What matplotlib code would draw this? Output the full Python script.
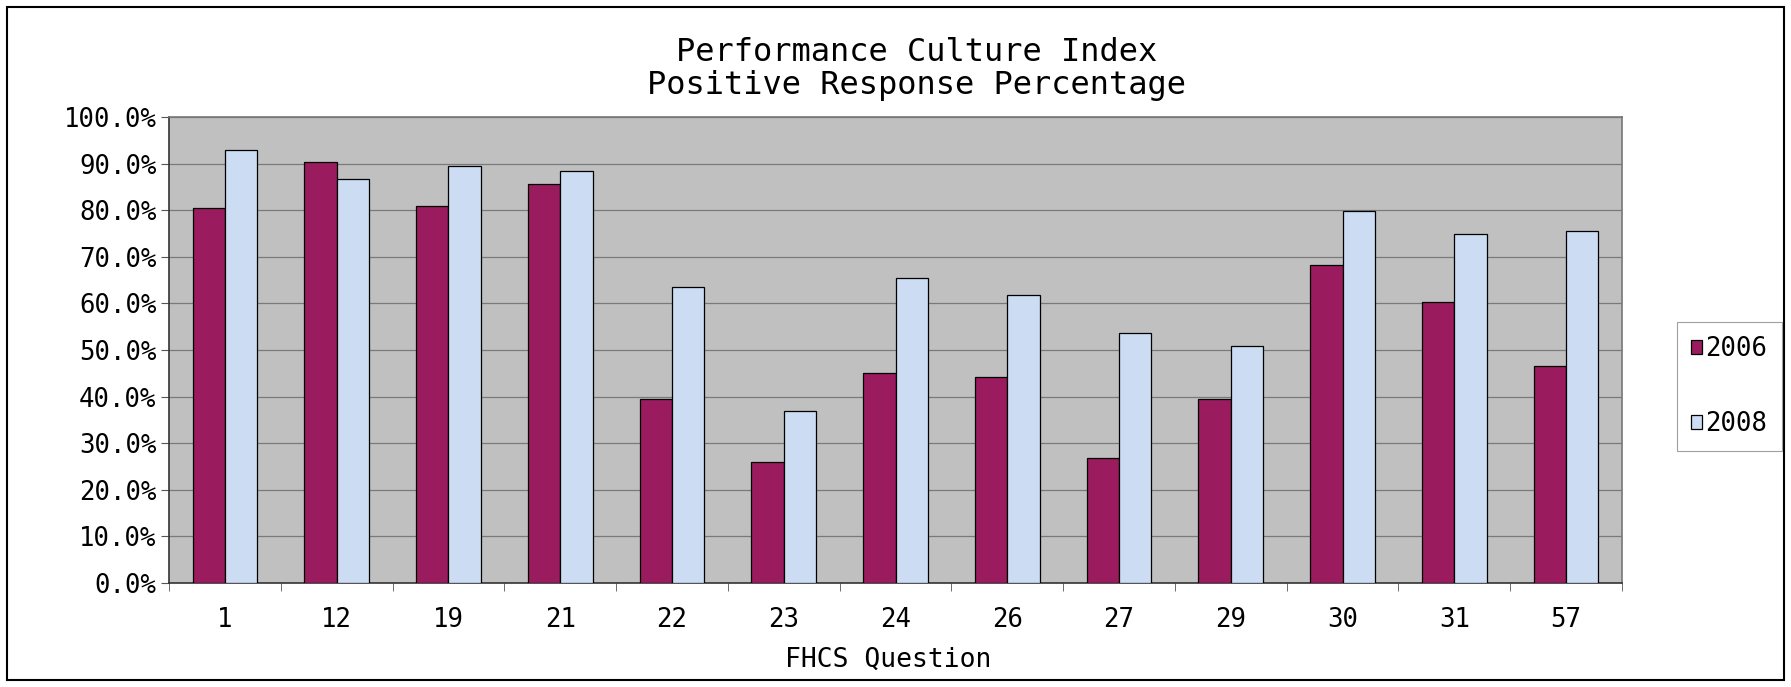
import numpy as np
import matplotlib
matplotlib.use("Agg")
import matplotlib.pyplot as plt
from matplotlib.patches import Rectangle
from matplotlib.ticker import FuncFormatter, FixedLocator

questions = ["1", "12", "19", "21", "22", "23", "24", "26", "27", "29", "30", "31", "57"]
pct_2006 = [80.4, 90.4, 80.8, 85.7, 39.5, 26.0, 45.0, 44.3, 26.8, 39.5, 68.3, 60.3, 46.5]
pct_2008 = [93.0, 86.6, 89.5, 88.5, 63.5, 37.0, 65.5, 61.8, 53.7, 50.8, 79.8, 74.8, 75.5]
series_names = ["2006", "2008"]

plt.rcParams["font.family"] = ["DejaVu Sans Mono"]

fig = plt.figure(figsize=(17.91, 6.87), dpi=100)
ax = fig.add_axes([0.0944, 0.1514, 0.8112, 0.6783])
ax.set_facecolor("#c0c0c0")

x = np.arange(len(questions))
width = 0.29
ax.bar(x - width / 2, pct_2006, width=width, color="#9b1b5f",
       edgecolor="black", linewidth=0.9, label=series_names[0], zorder=3)
ax.bar(x + width / 2, pct_2008, width=width, color="#cbdcf3",
       edgecolor="black", linewidth=0.9, label=series_names[1], zorder=3)

ax.set_xlim(-0.5, len(questions) - 0.5)
ax.set_ylim(0, 100)
ax.set_yticks(np.arange(0, 101, 10))
ax.yaxis.set_major_formatter(FuncFormatter(lambda v, p: f"{v:.1f}%"))
ax.grid(axis="y", color="#7a7a7a", linewidth=0.9, zorder=1)

ax.set_xticks(x)
ax.set_xticklabels(questions)
ax.xaxis.set_minor_locator(FixedLocator(np.arange(-0.5, len(questions), 1)))
ax.tick_params(axis="x", which="major", length=0, pad=17, labelsize=18.5)
ax.tick_params(axis="x", which="minor", length=6, color="#555555")
ax.tick_params(axis="y", length=6, color="#555555", pad=3, labelsize=18.5)

for side in ["top", "right"]:
    ax.spines[side].set_color("#777777")
    ax.spines[side].set_linewidth(1.2)
for side in ["left", "bottom"]:
    ax.spines[side].set_color("#333333")
    ax.spines[side].set_linewidth(1.2)

ax.set_xlabel("FHCS Question", fontsize=19, va="center")
ax.xaxis.set_label_coords(0.495, -0.165)

fig.text(0.512, 0.923, "Performance Culture Index", ha="center", va="center", fontsize=23)
fig.text(0.512, 0.876, "Positive Response Percentage", ha="center", va="center", fontsize=23)

leg = fig.legend(loc="center", bbox_to_anchor=(0.9655, 0.437), fontsize=18.5,
                 frameon=True, fancybox=False, edgecolor="#888888",
                 handlelength=0.45, handleheight=0.45, handletextpad=0.12,
                 labelspacing=1.9, borderpad=0.55, borderaxespad=0)
leg.get_frame().set_linewidth(0.8)

fig.patches.append(Rectangle((0.004, 0.01), 0.992, 0.98, transform=fig.transFigure,
                             fill=False, edgecolor="black", linewidth=1.5))

fig.savefig("out.png", dpi=100)
